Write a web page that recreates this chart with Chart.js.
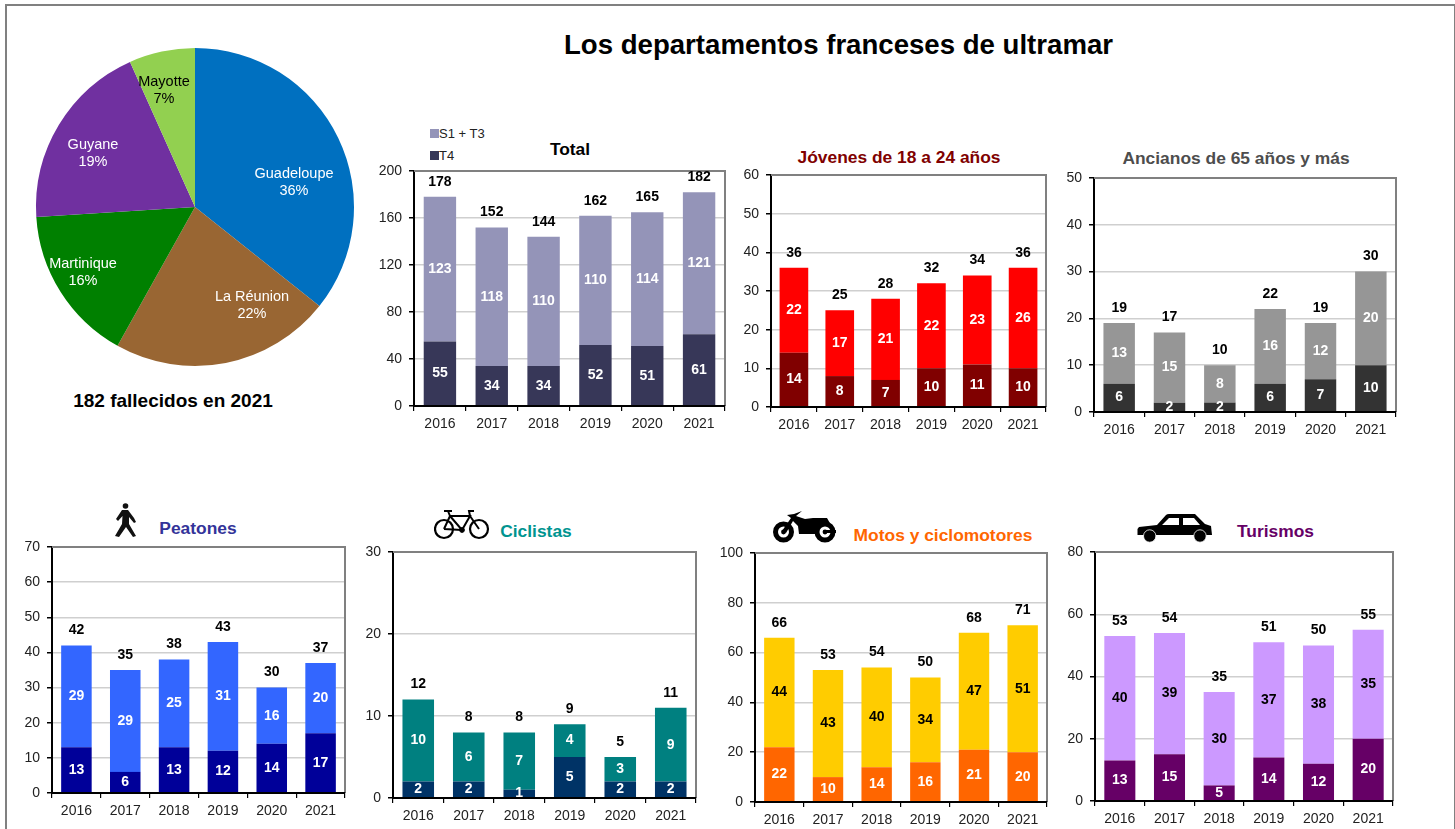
<!DOCTYPE html>
<html>
<head>
<meta charset="utf-8">
<title>Los departamentos franceses de ultramar</title>
<script src="https://cdn.jsdelivr.net/npm/chart.js@4"></script>
<style>
    html, body { margin: 0; padding: 0; background: #fff; overflow: hidden; }
    body { width: 1455px; height: 829px; position: relative; font-family: "Liberation Sans", Arial, sans-serif; }
    canvas { position: absolute; }
    #frame { position: absolute; left: 5px; top: 4px; width: 1447px; height: 840px; border: 2px solid #808080; }
    .label { position: absolute; font-weight: bold; white-space: nowrap; transform: translate(-50%, -50%); font-size: 17.4px; line-height: 20px; }
    .legend { position: absolute; left: 430px; font-size: 13px; line-height: 14px; white-space: nowrap; color: #222; }
    .legend i { display: inline-block; width: 9px; height: 9px; margin-right: 0; }
    svg { position: absolute; }
</style>
</head>
<body>
<div id="frame"></div>

<div class="label" style="left:838.5px;top:45px;font-size:27.6px;line-height:32px;color:#000">Los departamentos franceses de ultramar</div>
<div class="label" style="left:173px;top:401px;font-size:19px;color:#000">182 fallecidos en 2021</div>
<div class="label" style="left:570px;top:149px;color:#000">Total</div>
<div class="label" style="left:899px;top:156.5px;color:#800000">Jóvenes de 18 a 24 años</div>
<div class="label" style="left:1236px;top:158px;color:#4d4d4d">Ancianos de 65 años y más</div>
<div class="label" style="left:198px;top:528px;color:#333399">Peatones</div>
<div class="label" style="left:536px;top:531px;color:#009490">Ciclistas</div>
<div class="label" style="left:943px;top:535px;color:#ff6600">Motos y ciclomotores</div>
<div class="label" style="left:1275.5px;top:531px;color:#660066">Turismos</div>

<div class="legend" style="top:127px"><i style="background:#9494b8"></i>S1 + T3</div>
<div class="legend" style="top:149px"><i style="background:#373758"></i>T4</div>

<!-- pedestrian -->
<svg style="left:113px;top:503px" width="26" height="35" viewBox="0 0 26 35">
    <circle cx="12.5" cy="3" r="2.8" fill="#111"/>
    <path d="M9 7 L15 7 L21 15 L23 19 L21 20 L16 14 L16 21 L23 33 L20 34 L13 24 L6 34 L2 33 L9 21 L9.5 13 L5 18 L3 16 Z" fill="#111"/>
</svg>
<!-- bicycle -->
<svg style="left:434px;top:508px" width="56" height="33" viewBox="0 0 56 33" fill="none" stroke="#000">
    <circle cx="10" cy="21" r="9" stroke-width="2.2"/>
    <circle cx="45" cy="21" r="9" stroke-width="2.2"/>
    <path d="M10 21 L16 8 L36 8 L28 22 L16 8 M10 21 L28 22 M36 8 L45 21 M36 8 L35 3 L40 3 M16 8 L14 3 M10 3 L18 3" stroke-width="2"/>
    <circle cx="28" cy="22" r="2.4" fill="#000"/>
</svg>
<!-- motorbike -->
<svg style="left:773px;top:511px" width="64" height="32" viewBox="0 0 64 32">
    <circle cx="10.5" cy="21" r="8" fill="none" stroke="#000" stroke-width="5"/>
    <circle cx="10.5" cy="21" r="2.4" fill="#000"/>
    <circle cx="52" cy="21" r="8" fill="none" stroke="#000" stroke-width="5"/>
    <circle cx="52" cy="21" r="2.4" fill="#000"/>
    <path d="M9 20 L18 7 L14 4 L21 3 L29 0 L23 5 L26 6 L32 8 L40 7 L54 7 L58 14 L50 13 L46 18 L44 23 L26 23 L25 15 L20 10 L13 22 Z" fill="#000"/>
    <rect x="52" y="19" width="11" height="3" fill="#000"/>
</svg>
<!-- car -->
<svg style="left:1137px;top:514px" width="76" height="29" viewBox="0 0 76 29">
    <path d="M0.5 15 L2 13 L20 11 L29 1 Q30 0 32 0 L58 0 L68 10 L74 12 L75 21 L0.5 21 Z" fill="#000"/>
    <path d="M25 11 L32 4 L42 4 L42 11 Z M46 4 L57 4 L63 11 L46 11 Z" fill="#fff"/>
    <circle cx="12.7" cy="22" r="6.2" fill="#000" stroke="#fff" stroke-width="0.8"/>
    <circle cx="63" cy="22" r="6.2" fill="#000" stroke="#fff" stroke-width="0.8"/>
</svg>

<canvas id="pieChart"></canvas>
<canvas id="totalChart"></canvas>
<canvas id="jovenesChart"></canvas>
<canvas id="ancianosChart"></canvas>
<canvas id="peatonesChart"></canvas>
<canvas id="ciclistasChart"></canvas>
<canvas id="motosChart"></canvas>
<canvas id="turismosChart"></canvas>

<script>
const years = ['2016', '2017', '2018', '2019', '2020', '2021'];

const pieNames = ['Guadeloupe', 'La Réunion', 'Martinique', 'Guyane', 'Mayotte'];
const pieShares = [35.7, 22.4, 15.9, 19.3, 6.7];

const totalT4 = [55, 34, 34, 52, 51, 61];
const totalS1T3 = [123, 118, 110, 110, 114, 121];
const jovenesT4 = [14, 8, 7, 10, 11, 10];
const jovenesS1T3 = [22, 17, 21, 22, 23, 26];
const ancianosT4 = [6, 2, 2, 6, 7, 10];
const ancianosS1T3 = [13, 15, 8, 16, 12, 20];
const peatonesT4 = [13, 6, 13, 12, 14, 17];
const peatonesS1T3 = [29, 29, 25, 31, 16, 20];
const ciclistasT4 = [2, 2, 1, 5, 2, 2];
const ciclistasS1T3 = [10, 6, 7, 4, 3, 9];
const motosT4 = [22, 10, 14, 16, 21, 20];
const motosS1T3 = [44, 43, 40, 34, 47, 51];
const turismosT4 = [13, 15, 5, 14, 12, 20];
const turismosS1T3 = [40, 39, 30, 37, 38, 35];

const FONT = '"Liberation Sans", Arial, sans-serif';
Chart.defaults.font.family = FONT;
Chart.defaults.font.size = 14;
Chart.defaults.color = '#222';
Chart.defaults.animation = false;

// fixed gutters round each plot, so the plot area lands where we want it
const GUTTER_LEFT = 44, GUTTER_TOP = 30, GUTTER_RIGHT = 6, GUTTER_BOTTOM = 28;

// gray top + right edge of the plot, numbers on the bars, totals above them
const barDecor = {
    id: 'barDecor',
    afterDatasetsDraw(chart, args, opts) {
        const ctx = chart.ctx, area = chart.chartArea;
        ctx.save();
        ctx.strokeStyle = '#808080';
        ctx.lineWidth = 2;
        ctx.beginPath();
        ctx.moveTo(area.left, area.top);
        ctx.lineTo(area.right, area.top);
        ctx.lineTo(area.right, area.bottom);
        ctx.stroke();

        ctx.font = 'bold 14px ' + FONT;
        ctx.textAlign = 'center';
        ctx.textBaseline = 'middle';
        chart.data.datasets.forEach((ds, d) => {
            chart.getDatasetMeta(d).data.forEach((bar, i) => {
                ctx.fillStyle = ds.textColor;
                ctx.fillText(ds.data[i], bar.x, (bar.y + bar.base) / 2);
            });
        });
        const top = chart.getDatasetMeta(chart.data.datasets.length - 1).data;
        ctx.fillStyle = '#000';
        top.forEach((bar, i) => {
            const sum = chart.data.datasets.reduce((acc, ds) => acc + ds.data[i], 0);
            ctx.fillText(sum, bar.x, bar.y - 15);
        });
        ctx.restore();
    },
};

function StackedChart(id, box, lower, upper, lowerColor, upperColor, maxY, step, upperText) {
    const canvas = document.getElementById(id);
    canvas.width = box.right - box.left + GUTTER_LEFT + GUTTER_RIGHT;
    canvas.height = box.bottom - box.top + GUTTER_TOP + GUTTER_BOTTOM;
    canvas.style.left = (box.left - GUTTER_LEFT) + 'px';
    canvas.style.top = (box.top - GUTTER_TOP) + 'px';

    new Chart(canvas, {
        type: 'bar',
        data: {
            labels: years,
            datasets: [
                { label: 'T4', data: lower, backgroundColor: lowerColor, textColor: '#fff' },
                { label: 'S1 + T3', data: upper, backgroundColor: upperColor, textColor: upperText },
            ],
        },
        options: {
            responsive: false,
            layout: { padding: { top: GUTTER_TOP, right: GUTTER_RIGHT } },
            datasets: { bar: { categoryPercentage: 1, barPercentage: 0.625 } },
            plugins: { legend: { display: false }, tooltip: { enabled: false } },
            scales: {
                x: {
                    stacked: true,
                    afterFit: (s) => { s.height = GUTTER_BOTTOM; },
                    grid: { drawOnChartArea: false, tickColor: '#000', tickLength: 5, lineWidth: 1.2 },
                    border: { color: '#000', width: 2, z: 1 },
                    ticks: { padding: 5, maxRotation: 0, color: '#222' },
                },
                y: {
                    stacked: true,
                    min: 0,
                    max: maxY,
                    afterFit: (s) => { s.width = GUTTER_LEFT; },
                    grid: { color: '#cfcfcf', tickColor: '#000', tickLength: 5, lineWidth: 1.5 },
                    border: { color: '#000', width: 2 },
                    ticks: { stepSize: step, padding: 7, color: '#222' },
                },
            },
        },
        plugins: [barDecor],
    });
}

StackedChart('totalChart', { left: 414, top: 171, right: 725, bottom: 406 }, totalT4, totalS1T3, '#373758', '#9494b8', 200, 40, '#fff');
StackedChart('jovenesChart', { left: 771, top: 175, right: 1046, bottom: 407 }, jovenesT4, jovenesS1T3, '#800000', '#ff0000', 60, 10, '#fff');
StackedChart('ancianosChart', { left: 1094, top: 178, right: 1396, bottom: 412 }, ancianosT4, ancianosS1T3, '#333333', '#969696', 50, 10, '#fff');
StackedChart('peatonesChart', { left: 52, top: 547, right: 345, bottom: 793 }, peatonesT4, peatonesS1T3, '#000099', '#3366ff', 70, 10, '#fff');
StackedChart('ciclistasChart', { left: 393, top: 552, right: 696, bottom: 798 }, ciclistasT4, ciclistasS1T3, '#003366', '#008080', 30, 10, '#fff');
StackedChart('motosChart', { left: 755, top: 553, right: 1047, bottom: 802 }, motosT4, motosS1T3, '#ff6600', '#ffcc00', 100, 20, '#000');
StackedChart('turismosChart', { left: 1095, top: 552, right: 1393, bottom: 801 }, turismosT4, turismosS1T3, '#660066', '#cc99ff', 80, 20, '#000');

// the slice names do not sit on the slice axis in the original, so they get offsets from the centre
const pieTextOffsets = [[99, -25], [57, 98], [-112, 65], [-102, -54], [-31, -117]];
const pieTextColors = ['#fff', '#fff', '#fff', '#fff', '#000'];

const pieText = {
    id: 'pieText',
    afterDatasetsDraw(chart) {
        const ctx = chart.ctx;
        const arc = chart.getDatasetMeta(0).data[0];
        ctx.save();
        ctx.font = '14.5px ' + FONT;
        ctx.textAlign = 'center';
        ctx.textBaseline = 'middle';
        pieNames.forEach((name, i) => {
            const x = arc.x + pieTextOffsets[i][0], y = arc.y + pieTextOffsets[i][1];
            ctx.fillStyle = pieTextColors[i];
            ctx.fillText(name, x, y - 8.5);
            ctx.fillText(Math.round(pieShares[i]) + '%', x, y + 8.5);
        });
        ctx.restore();
    },
};

const pieCanvas = document.getElementById('pieChart');
pieCanvas.width = 330;
pieCanvas.height = 330;
pieCanvas.style.left = '30px';
pieCanvas.style.top = '42px';
new Chart(pieCanvas, {
    type: 'pie',
    data: {
        labels: pieNames,
        datasets: [{
            data: pieShares,
            backgroundColor: ['#0070c0', '#996633', '#008000', '#7030a0', '#92d050'],
            borderWidth: 0,
            radius: 159,
        }],
    },
    options: {
        responsive: false,
        plugins: { legend: { display: false }, tooltip: { enabled: false } },
    },
    plugins: [pieText],
});
</script>
</body>
</html>
